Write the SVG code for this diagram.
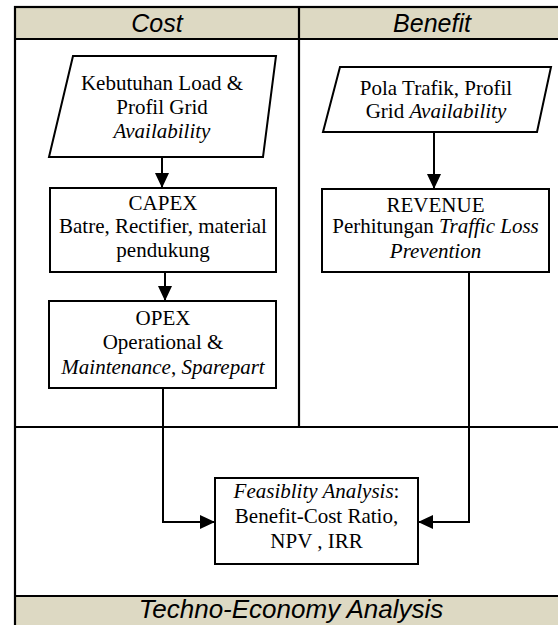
<svg xmlns="http://www.w3.org/2000/svg" width="558" height="625" viewBox="0 0 558 625">
<style>
.frame{fill:none;stroke:#000;stroke-width:2.2}
.band{fill:#DDD9C3;stroke:none}
.hdr{font-family:"Liberation Sans",Arial,sans-serif;font-style:italic;font-size:25px;fill:#000;text-anchor:middle}
.box{fill:#fff;stroke:#000;stroke-width:2}
.t{font-family:"Liberation Serif","Times New Roman",serif;font-size:21px;fill:#000;text-anchor:middle}
.i{font-style:italic}
.conn{fill:none;stroke:#000;stroke-width:2}
</style>
<defs>
<marker id="arr" viewBox="0 0 15 14" refX="15" refY="7" markerWidth="15" markerHeight="14" markerUnits="userSpaceOnUse" orient="auto">
<path d="M0,0 L15,7 L0,14 Z" fill="#000"/>
</marker>
</defs>
<rect x="0" y="0" width="558" height="625" fill="#fff"/>
<g id="frame">
<rect class="band" x="15" y="7" width="560" height="32"/>
<rect class="band" x="15" y="596" width="560" height="40"/>
<rect class="frame" x="15" y="7" width="560" height="640"/>
<line class="frame" x1="15" y1="39" x2="575" y2="39"/>
<line class="frame" x1="299" y1="7" x2="299" y2="427"/>
<line class="frame" x1="15" y1="427" x2="575" y2="427"/>
<line class="frame" x1="15" y1="596" x2="575" y2="596"/>
<text class="hdr" x="157" y="32">Cost</text>
<text class="hdr" x="432" y="32">Benefit</text>
<text class="hdr" x="291" y="618" style="font-size:26px">Techno-Economy Analysis</text>
</g>
<g id="connectors">
<line class="conn" x1="162" y1="157" x2="162" y2="188" marker-end="url(#arr)"/>
<line class="conn" x1="165" y1="272" x2="165" y2="301" marker-end="url(#arr)"/>
<line class="conn" x1="434" y1="132" x2="434" y2="189" marker-end="url(#arr)"/>
<polyline class="conn" points="163,388 163,522 215,522" marker-end="url(#arr)"/>
<polyline class="conn" points="469,272 469,522 418,522" marker-end="url(#arr)"/>
</g>
<g id="load">
<polygon class="box" points="73,56 276,56 263,157 49,157"/>
<text class="t" x="162" y="90">Kebutuhan Load &amp;</text>
<text class="t" x="162" y="114">Profil Grid</text>
<text class="t i" x="162" y="138">Availability</text>
</g>
<g id="capex">
<rect class="box" x="50" y="188" width="226" height="84"/>
<text class="t" x="163" y="210">CAPEX</text>
<text class="t" x="163" y="233">Batre, Rectifier, material</text>
<text class="t" x="163" y="257">pendukung</text>
</g>
<g id="opex">
<rect class="box" x="49" y="301" width="227" height="87"/>
<text class="t" x="163" y="325">OPEX</text>
<text class="t" x="163" y="349">Operational &amp;</text>
<text class="t" x="163" y="374"><tspan class="i">Maintenance</tspan>, <tspan class="i">Sparepart</tspan></text>
</g>
<g id="traffic">
<polygon class="box" points="340,67 551,67 537,132 323,132"/>
<text class="t" x="436" y="95">Pola Trafik, Profil</text>
<text class="t" x="436" y="118">Grid <tspan class="i">Availability</tspan></text>
</g>
<g id="revenue">
<rect class="box" x="322" y="189" width="227" height="83"/>
<text class="t" x="435.5" y="212">REVENUE</text>
<text class="t" x="435.5" y="233">Perhitungan <tspan class="i">Traffic Loss</tspan></text>
<text class="t i" x="435.5" y="258">Prevention</text>
</g>
<g id="feasibility">
<rect class="box" x="215" y="478" width="203" height="86"/>
<text class="t" x="316.5" y="498"><tspan class="i">Feasiblity Analysis</tspan>:</text>
<text class="t" x="316.5" y="523">Benefit-Cost Ratio,</text>
<text class="t" x="316.5" y="548">NPV , IRR</text>
</g>
</svg>
